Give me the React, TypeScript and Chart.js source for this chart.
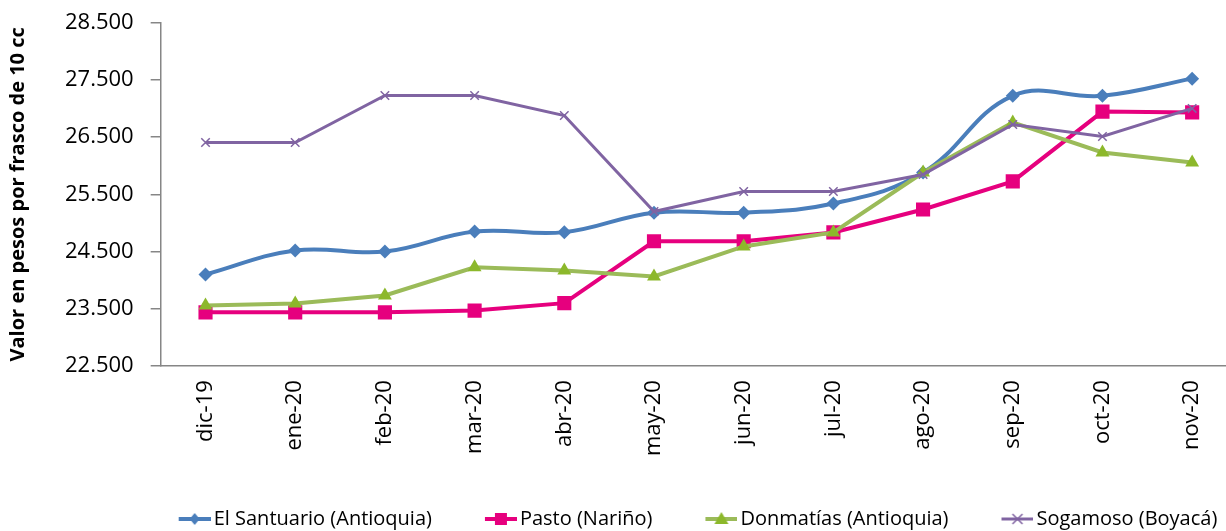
import React, { useEffect, useRef } from "react";
import { Chart, registerables } from "chart.js";

Chart.register(...registerables);

const categories = ["dic-19", "ene-20", "feb-20", "mar-20", "abr-20", "may-20", "jun-20", "jul-20", "ago-20", "sep-20", "oct-20", "nov-20"];

const santuario = [24100, 24520, 24500, 24850, 24840, 25180, 25180, 25340, 25880, 27220, 27220, 27520];
const pasto = [23440, 23440, 23440, 23470, 23600, 24680, 24680, 24835, 25235, 25725, 26945, 26930];
const donmatias = [23560, 23595, 23735, 24225, 24170, 24065, 24590, 24835, 25880, 26755, 26230, 26055];
const sogamoso = [26405, 26405, 27225, 27225, 26875, 25200, 25550, 25550, 25845, 26720, 26510, 27000];

const seriesNames = ["El Santuario (Antioquia)", "Pasto (Nariño)", "Donmatías (Antioquia)", "Sogamoso (Boyacá)"];

const yMin = 22500;
const yMax = 28500;
const yStep = 1000;

const FONT = "'Open Sans', 'Noto Sans', sans-serif";

const CANVAS_W = 1352;
const CANVAS_H = 539;
const LEGEND_SHIFT = 55;

function formatThousands(v: number): string {
  const s = Math.round(v).toString();
  return s.replace(/\B(?=(\d{3})+(?!\d))/g, ".");
}

// legend icon: transparent lead-in, then a short line with the series marker
function makeIcon(kind: string, line: string, fill: string): HTMLCanvasElement {
  const c = document.createElement("canvas");
  c.width = 82;
  c.height = 18;
  const ctx = c.getContext("2d")!;
  const cy = 9;
  const x0 = 50;
  const x1 = 82;
  const cx = (x0 + x1) / 2;
  ctx.strokeStyle = line;
  ctx.lineWidth = kind === "cross" ? 3 : 4;
  ctx.beginPath();
  ctx.moveTo(x0, cy);
  ctx.lineTo(x1, cy);
  ctx.stroke();
  ctx.fillStyle = fill;
  ctx.beginPath();
  if (kind === "diamond") {
    ctx.moveTo(cx, cy - 6);
    ctx.lineTo(cx + 5, cy);
    ctx.lineTo(cx, cy + 6);
    ctx.lineTo(cx - 5, cy);
    ctx.closePath();
    ctx.fill();
  } else if (kind === "square") {
    ctx.rect(cx - 6, cy - 6, 12, 12);
    ctx.fill();
  } else if (kind === "triangle") {
    ctx.moveTo(cx, cy - 7);
    ctx.lineTo(cx + 7, cy + 5);
    ctx.lineTo(cx - 7, cy + 5);
    ctx.closePath();
    ctx.fill();
  } else {
    ctx.lineWidth = 1.5;
    ctx.moveTo(cx - 5, cy - 5);
    ctx.lineTo(cx + 5, cy + 5);
    ctx.moveTo(cx + 5, cy - 5);
    ctx.lineTo(cx - 5, cy + 5);
    ctx.stroke();
  }
  return c;
}

const legendShift = {
  id: "legendShift",
  afterLayout(chart: any) {
    if (chart.legend) {
      chart.legend.left += LEGEND_SHIFT;
      chart.legend.right += LEGEND_SHIFT;
    }
  },
};

export default function App() {
  const ref = useRef<HTMLCanvasElement | null>(null);

  useEffect(() => {
    if (!ref.current) return;
    const blue = "#4A7EBB";
    const pink = "#E6007E";
    const greenLine = "#9BBB59";
    const greenFill = "#8CB82B";
    const purple = "#8064A2";

    const icons = [
      makeIcon("diamond", blue, blue),
      makeIcon("square", pink, pink),
      makeIcon("triangle", greenLine, greenFill),
      makeIcon("cross", purple, purple),
    ];

    const chart = new Chart(ref.current, {
      type: "line",
      data: {
        labels: categories,
        datasets: [
          {
            label: seriesNames[0],
            data: santuario,
            borderColor: blue,
            backgroundColor: blue,
            borderWidth: 4,
            tension: 0.4,
            pointStyle: "rectRot",
            pointRadius: 7,
            pointBorderWidth: 0,
            pointBackgroundColor: blue,
            order: 4,
          },
          {
            label: seriesNames[1],
            data: pasto,
            borderColor: pink,
            backgroundColor: pink,
            borderWidth: 4,
            tension: 0,
            pointStyle: "rect",
            pointRadius: 10,
            pointBorderWidth: 0,
            pointBackgroundColor: pink,
            order: 3,
          },
          {
            label: seriesNames[2],
            data: donmatias,
            borderColor: greenLine,
            backgroundColor: greenFill,
            borderWidth: 4,
            tension: 0,
            pointStyle: "triangle",
            pointRadius: 8,
            pointBorderWidth: 0,
            pointBackgroundColor: greenFill,
            order: 2,
          },
          {
            label: seriesNames[3],
            data: sogamoso,
            borderColor: purple,
            backgroundColor: purple,
            borderWidth: 3,
            tension: 0,
            pointStyle: "crossRot",
            pointRadius: 6,
            pointBorderWidth: 1.5,
            pointBorderColor: purple,
            order: 1,
          },
        ],
      },
      plugins: [legendShift],
      options: {
        responsive: false,
        animation: false,
        layout: { padding: { top: 0, left: 6, right: CANVAS_W - 1237, bottom: 0 } },
        plugins: {
          tooltip: { enabled: false },
          legend: {
            position: "bottom",
            labels: {
              usePointStyle: true,
              pointStyleWidth: 68,
              boxHeight: 14,
              padding: 10,
              color: "#000",
              font: { family: FONT, size: 20 },
              sort: (a: any, b: any) => a.datasetIndex - b.datasetIndex,
              generateLabels: (chart: any) =>
                chart.data.datasets.map((ds: any, i: number) => ({
                  text: ds.label,
                  datasetIndex: i,
                  pointStyle: icons[i],
                  fillStyle: ds.borderColor,
                  strokeStyle: ds.borderColor,
                  lineWidth: 0,
                  hidden: false,
                  fontColor: "#000",
                })),
            },
          },
        },
        scales: {
          x: {
            offset: true,
            grid: { display: false, drawTicks: false },
            border: { display: true, color: "#868686", width: 1.5 },
            ticks: {
              color: "#000",
              font: { family: FONT, size: 22 },
              minRotation: 90,
              maxRotation: 90,
              padding: 14,
              autoSkip: false,
            },
            title: { display: true, text: " ", font: { size: 10 }, padding: { top: 17, bottom: 0 } },
          },
          y: {
            min: yMin,
            max: yMax,
            grid: { display: true, drawOnChartArea: false, drawTicks: true, tickLength: 10, color: "#868686", lineWidth: 1.5 },
            border: { display: true, color: "#868686", width: 1.5 },
            ticks: {
              stepSize: yStep,
              color: "#000",
              font: { family: FONT, size: 22, lineHeight: 0.5 },
              padding: 17,
              callback: (v: any) => formatThousands(Number(v)),
            },
            title: {
              display: true,
              text: "Valor en pesos por frasco de 10 cc",
              color: "#000",
              font: { family: FONT, size: 20, weight: "bold" },
              padding: { top: 0, bottom: 18 },
            },
          },
        },
      },
    });
    return () => chart.destroy();
  }, []);

  return (
    <div style={{ position: "absolute", top: 0, left: 0, width: 1226, height: 531, overflow: "hidden", background: "#fff" }}>
      <canvas ref={ref} width={CANVAS_W} height={CANVAS_H} style={{ display: "block", width: CANVAS_W, height: CANVAS_H }} />
    </div>
  );
}
